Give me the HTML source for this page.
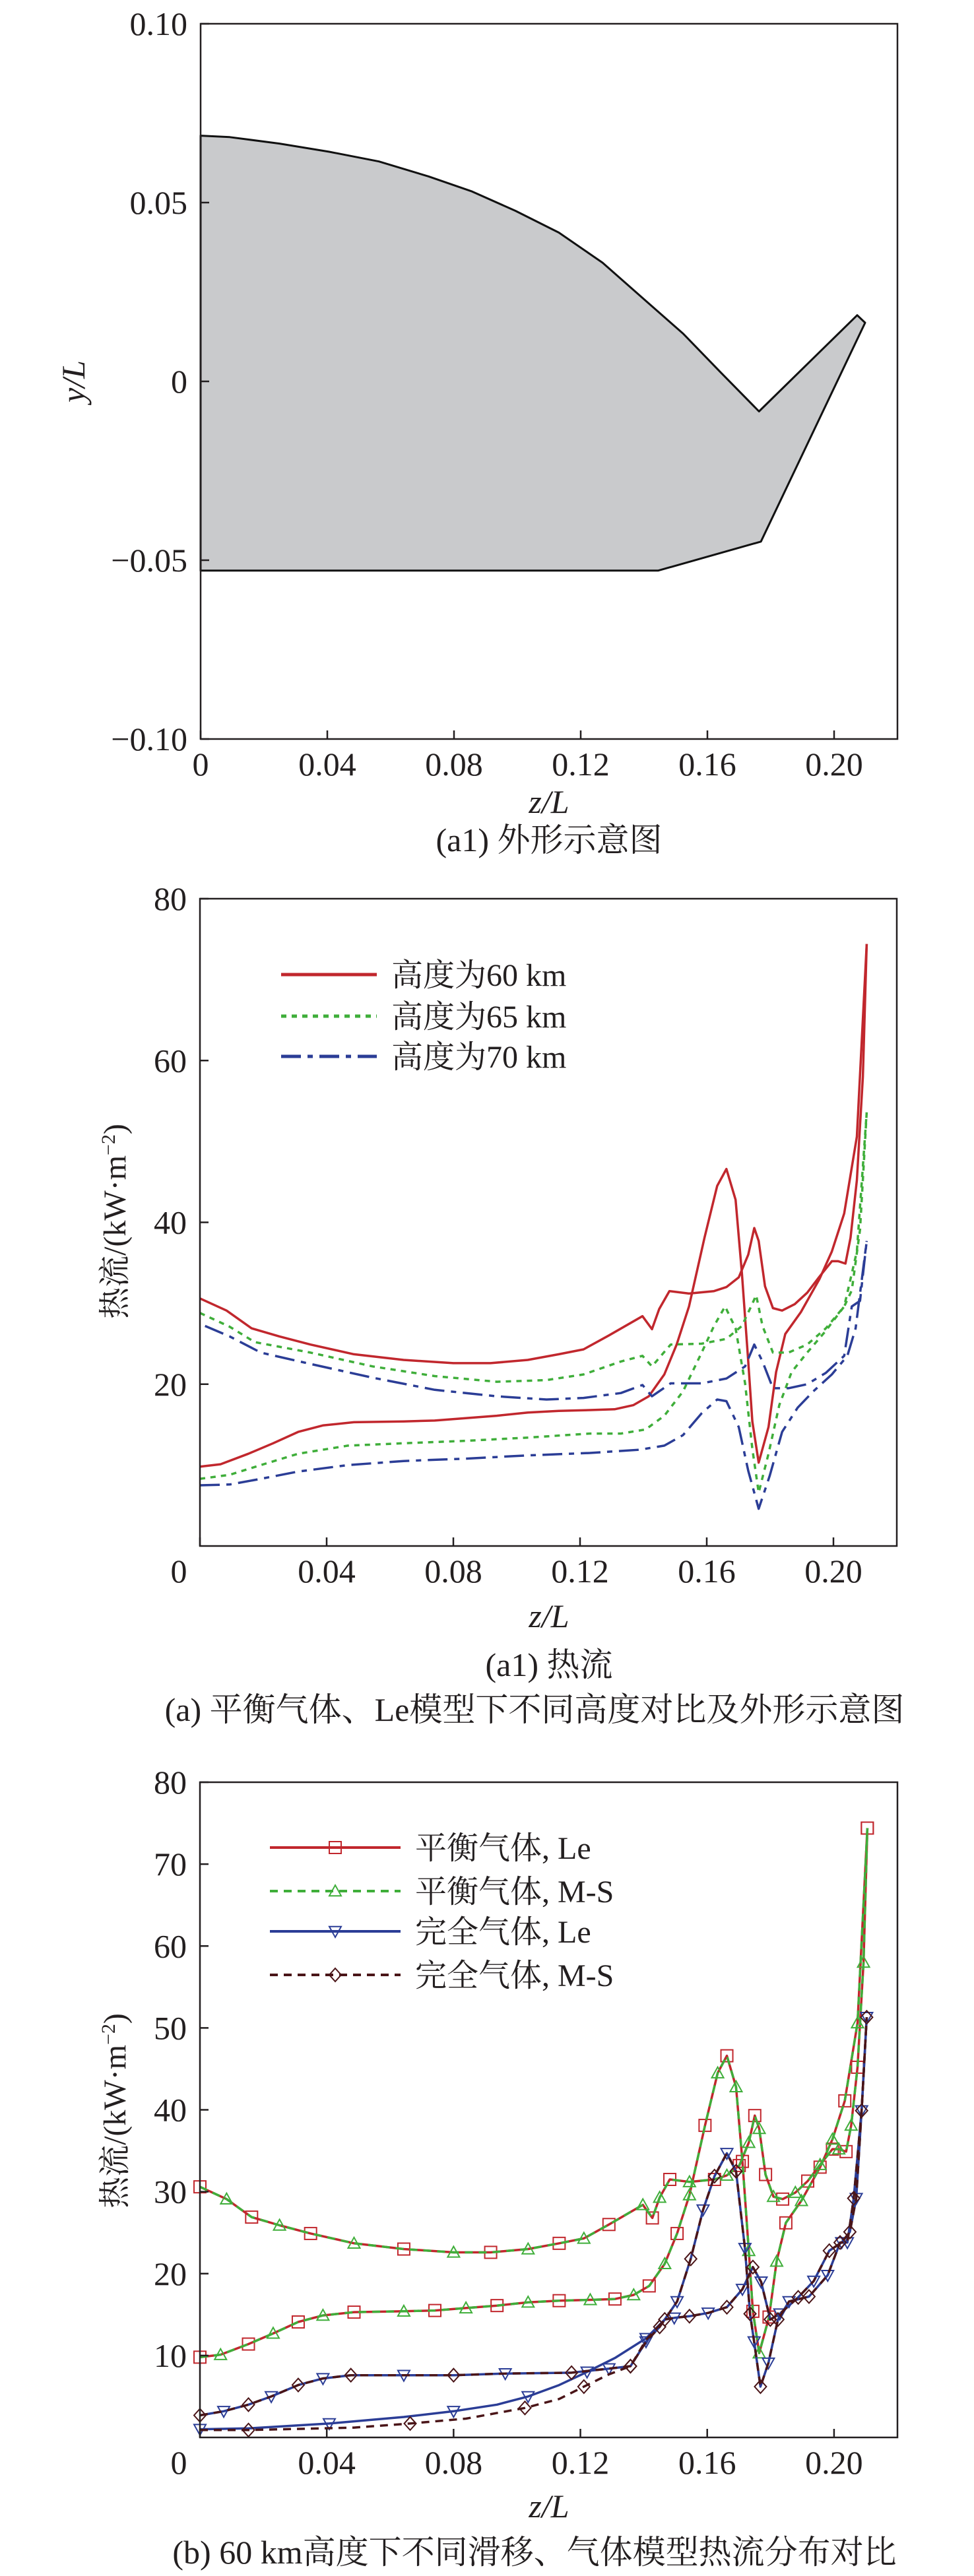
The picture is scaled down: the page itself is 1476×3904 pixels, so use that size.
<!DOCTYPE html>
<html><head><meta charset="utf-8">
<style>
html,body{margin:0;padding:0;background:#fff;}
svg{display:block;}
text{font-family:"Liberation Serif","Noto Serif CJK SC",serif;fill:#231f20;}
</style></head>
<body>
<svg id="fig" width="1476" height="3904" viewBox="0 0 1476 3904" xmlns="http://www.w3.org/2000/svg" font-family="Liberation Serif, Noto Serif CJK SC, serif"></svg>
<script>
// ---------- Chart 1 data: shape outline ----------
const shapeZ = [0,0.0092,0.0249,0.0406,0.0563,0.072,0.0857,0.0994,0.1131,0.1269,0.1406,0.1524,0.1641,0.1763,0.2073,0.2098,0.1769,0.1445,0];
const shapeY = [0.0687,0.0683,0.0665,0.0642,0.0615,0.0573,0.0531,0.0477,0.0416,0.0332,0.0225,0.0133,0.0026,-0.0084,0.0185,0.0164,-0.0448,-0.0529,-0.0529];
const xTicks = [0,0.04,0.08,0.12,0.16,0.20];
const xTickLabels = ["0","0.04","0.08","0.12","0.16","0.20"];
const y1Ticks = [0.10,0.05,0,-0.05,-0.10];
const y1TickLabels = ["0.10","0.05","0","\u22120.05","\u22120.10"];
// ---------- Chart 2 data ----------
const c2Ticks = [20,40,60,80];
const c2TickLabels = ["20","40","60","80"];
const h60UpZ = [0,.0084,.0163,.0251,.0349,.0486,.0643,.08,.0917,.1035,.1133,.1211,.129,.1397,.1427,.145,.1482,.1544,.1623,.1662,.1701,.1731,.175,.1764,.1784,.1809,.1838,.1878,.1917,.1956,.1995,.2015,.2038,.2054,.2074,.2093,.2105];
const h60UpV = [30.6,29.1,26.9,25.9,24.9,23.7,23.0,22.6,22.6,23.0,23.7,24.3,26.0,28.4,26.8,29.3,31.5,31.2,31.5,32.0,33.2,36.0,39.3,37.7,32.1,29.4,29.1,29.9,31.3,33.3,35.2,35.2,34.9,38.1,45.2,58.0,74.4];
const h60LoZ = [0,.0065,.0153,.0231,.031,.0388,.0486,.0643,.0741,.0839,.0937,.1035,.1133,.1231,.1309,.1368,.1417,.1466,.1505,.1544,.1593,.1633,.1662,.1691,.1711,.1731,.1744,.1764,.1795,.1819,.1848,.1897,.1956,.1995,.2034,.2074,.2105];
const h60LoV = [9.8,10.1,11.4,12.7,14.1,14.9,15.3,15.4,15.5,15.8,16.1,16.5,16.7,16.8,16.9,17.4,18.5,21.2,24.9,29.6,38.1,44.5,46.6,42.8,33.7,22.8,15.4,10.3,14.7,21.5,26.2,28.9,33.0,36.4,41.1,50.6,74.4];
const h65UpZ = [0,.0094,.0173,.0349,.0545,.0741,.0937,.1094,.1211,.1329,.1397,.1427,.1486,.1584,.1662,.1711,.1740,.1756,.1776,.1809,.1858,.1917,.1976,.2034,.2058,.2084,.2105];
const h65UpV = [28.8,27.1,25.2,23.9,22.2,21.0,20.3,20.5,21.2,22.8,23.5,22.2,24.9,25.0,25.6,27.2,29.6,31.0,27.2,23.9,23.9,24.9,26.9,29.6,31.6,39.1,53.6];
const h65LoZ = [0,.0094,.0192,.031,.0467,.0643,.0839,.1035,.1231,.1329,.1407,.1466,.1525,.1584,.1623,.1658,.1691,.1721,.1744,.1764,.1795,.1829,.1868,.1917,.1976,.2034,.2074,.2105];
const h65LoV = [8.3,8.8,10.0,11.4,12.4,12.7,13.0,13.4,13.9,13.9,14.4,16.1,19.1,23.9,27.2,29.6,26.9,20.1,12.0,6.6,11.4,17.4,21.5,23.9,26.6,29.6,36.4,53.6];
const h70UpZ = [.0016,.0094,.0192,.0349,.0545,.0741,.0937,.1094,.1211,.1329,.1397,.1427,.1486,.1584,.1662,.1721,.175,.1776,.1809,.1858,.1917,.1976,.2034,.2058,.2084,.2105];
const h70UpV = [27.2,25.9,23.9,22.5,20.8,19.3,18.5,18.1,18.3,18.9,19.9,18.5,20.1,20.1,20.7,22.2,24.9,22.8,19.5,19.5,20.0,21.4,23.5,29.6,30.3,37.7];
const h70LoZ = [0,.0094,.0192,.031,.0467,.0643,.0839,.1035,.1231,.1388,.1466,.1525,.1584,.1633,.1662,.1701,.1731,.1764,.1799,.1838,.1887,.1936,.1995,.2044,.2070,.2105];
const h70LoV = [7.5,7.6,8.3,9.2,10.0,10.5,10.8,11.2,11.5,11.9,12.4,13.7,16.4,18.1,17.9,14.7,9.3,4.6,8.7,14.1,17.1,19.1,21.2,23.5,26.9,37.7];
// ---------- Chart 3 data ----------
const c3Ticks = [10,20,30,40,50,60,70,80];
const c3TickLabels = ["10","20","30","40","50","60","70","80"];
const pgUpZ = [0,.0075,.0153,.0225,.031,.0388,.0476,.0643,.0800,.0963,.1172,.1290,.1358,.1407,.1450,.1505,.1548,.1587,.1623,.1662,.1691,.1719,.1735,.1748,.1768,.1793,.1823,.1858,.1921,.1980,.2019,.2042,.2062,.2087,.2103];
const pgUpV = [2.7,3.2,4.0,5.0,6.4,7.2,7.6,7.6,7.6,7.8,7.9,8.4,8.7,11.7,13.5,16.6,21.8,27.8,31.9,34.7,32.5,23.1,15.1,11.7,6.2,9.1,14.4,16.6,17.2,19.8,23.8,23.8,29.2,39.9,51.3];
const pgLeLoZ = [0,.0153,.0408,.0643,.0800,.0937,.1035,.1133,.1221,.1309,.1407,.1466,.1496,.1544,.1603,.1662,.1711,.1744,.1770,.1799,.1829,.1887,.1936,.1985,.2024,.2050,.2070,.2087,.2103];
const pgLeLoV = [1.0,1.1,1.7,2.5,3.2,4.0,5.0,6.4,8.0,9.7,12.1,14.4,14.6,14.8,15.2,15.9,18.1,20.8,19.0,14.4,15.1,17.1,19.1,22.8,23.8,25.1,29.2,39.9,51.3];
const pgMsLoZ = [0,.0153,.0486,.0663,.0839,.1025,.1133,.1211,.1290,.1358,.1407,.1466,.1496,.1544,.1603,.1662,.1711,.1744,.1770,.1799,.1829,.1887,.1936,.1985,.2024,.2050,.2070,.2087,.2103];
const pgMsLoV = [0.9,0.9,1.2,1.7,2.3,3.6,4.7,6.2,7.7,8.7,11.9,14.4,14.6,14.8,15.2,15.9,18.1,20.8,19.0,14.4,15.1,17.1,19.1,22.8,23.8,25.1,29.2,39.9,51.3];

const NS='http://www.w3.org/2000/svg';
const svg=document.getElementById('fig');
function el(tag,attrs,parent){const e=document.createElementNS(NS,tag);for(const k in attrs)e.setAttribute(k,attrs[k]);(parent||svg).appendChild(e);return e;}
function txt(s,attrs,parent){const t=el('text',attrs,parent);t.textContent=s;return t;}

function axes(L,R,T,B,xmax,ymin,ymax){
  return {x:z=>L+(z/xmax)*(R-L), y:v=>B-(v-ymin)/(ymax-ymin)*(B-T)};
}
function pathD(X,Y,fx,fy){return X.map((z,i)=>(i?'L':'M')+fx(z).toFixed(1)+' '+fy(Y[i]).toFixed(1)).join(' ');}

function frame(g,L,R,T,B,ax,yTicks,yLabels,showX0){
  const f=el('rect',{x:L,y:T,width:R-L,height:B-T,fill:'none',stroke:'#231f20','stroke-width':2.5},g);
  
  
  xTicks.forEach((z,i)=>{
    const X=ax.x(z);
    const tk=el('line',{x1:X,x2:X,y1:B,y2:B-13,stroke:'#231f20','stroke-width':2.5},g);
    
    
    if(i===0 && !showX0) return;
    const t=txt(xTickLabels[i],{x:X,y:B+55,'font-size':50,'text-anchor':'middle'},g);
    
    
  });
  yTicks.forEach((v,i)=>{
    const Y=ax.y(v);
    const tk=el('line',{x1:L,x2:L+13,y1:Y,y2:Y,stroke:'#231f20','stroke-width':2.5},g);
    
    
    const t=txt(yLabels[i],{x:L-20,y:Y+17,'font-size':50,'text-anchor':'end'},g);
    
    
  });
}

// ===== Chart 1 =====
{
const g=el('g',{});


const L=304,R=1360,T=36,B=1120;
const ax=axes(L,R,T,B,0.22,-0.10,0.10);
const p=el('path',{d:pathD(shapeZ,shapeY,ax.x,ax.y)+' Z',fill:'#c9cacc',stroke:'#111','stroke-width':3,'stroke-linejoin':'round'},g);


frame(g,L,R,T,B,ax,y1Ticks,y1TickLabels,true);
const yt=txt('y/L',{x:0,y:0,'font-size':50,'font-style':'italic','text-anchor':'middle',transform:'translate(128,578) rotate(-90)'},g);


const xt=txt('z/L',{x:832,y:1232,'font-size':50,'font-style':'italic','text-anchor':'middle'},g);


const cap=txt('(a1) 外形示意图',{x:832,y:1290,'font-size':50,'text-anchor':'middle'},g);


}

// ===== Chart 2 =====
{
const g=el('g',{});


const L=303,R=1359,T=1362,B=2343;
const ax=axes(L,R,T,B,0.22,0,80);
const series=[
 ['altitude-60km-upper',h60UpZ,h60UpV,'#c1272d','none'],
 ['altitude-60km-lower',h60LoZ,h60LoV,'#c1272d','none'],
 ['altitude-65km-upper',h65UpZ,h65UpV,'#3fae3a','8 8'],
 ['altitude-65km-lower',h65LoZ,h65LoV,'#3fae3a','8 8'],
 ['altitude-70km-upper',h70UpZ,h70UpV,'#2b3d96','30 10 8 10'],
 ['altitude-70km-lower',h70LoZ,h70LoV,'#2b3d96','30 10 8 10']];
series.forEach(s=>{
  const p=el('path',{d:pathD(s[1],s[2],ax.x,ax.y),fill:'none',stroke:s[3],'stroke-width':3.5,'stroke-dasharray':s[4],'stroke-linejoin':'round'},g);
  
  
});
frame(g,L,R,T,B,ax,c2Ticks,c2TickLabels,false);
const z0=txt('0',{x:271,y:2398,'font-size':50,'text-anchor':'middle'},g);


const leg=[['高度为60 km','#c1272d','none',1477],['高度为65 km','#3fae3a','8 8',1540],['高度为70 km','#2b3d96','30 10 8 10',1601]];
leg.forEach(l=>{
  const ge=el('g',{},g);
  
  
  el('line',{x1:426,x2:571,y1:l[3],y2:l[3],stroke:l[1],'stroke-width':5,'stroke-dasharray':l[2]},ge);
  txt(l[0],{x:593,y:l[3]+17,'font-size':48},ge);
});
const yt=txt('热流/(kW·m',{x:0,y:0,'font-size':48,'text-anchor':'middle',transform:'translate(190,1851) rotate(-90)'},g);
const sup=el('tspan',{dy:-16,'font-size':30},yt);sup.textContent='−2';
const cl=el('tspan',{dy:16},yt);cl.textContent=')';


const xt=txt('z/L',{x:832,y:2466,'font-size':50,'font-style':'italic','text-anchor':'middle'},g);


const cap=txt('(a1) 热流',{x:832,y:2540,'font-size':50,'text-anchor':'middle'},g);


const capa=txt('(a) 平衡气体、Le模型下不同高度对比及外形示意图',{x:810,y:2608,'font-size':50,'text-anchor':'middle'},g);


}

// ===== Chart 3 =====
{
const g=el('g',{});


const L=303,R=1360,T=2701,B=3694;
const ax=axes(L,R,T,B,0.22,0,80);
function marker(kind,X,Y,color,parent){
  const r=9;let m;
  if(kind==='sq') m=el('rect',{x:X-r,y:Y-r,width:2*r,height:2*r,fill:'none',stroke:color,'stroke-width':2},parent);
  else if(kind==='tri') m=el('path',{d:`M${X} ${Y-r} L${X+r} ${Y+r*0.8} L${X-r} ${Y+r*0.8}Z`,fill:'none',stroke:color,'stroke-width':2},parent);
  else if(kind==='dtri') m=el('path',{d:`M${X} ${Y+r} L${X+r} ${Y-r*0.8} L${X-r} ${Y-r*0.8}Z`,fill:'none',stroke:color,'stroke-width':2},parent);
  else m=el('path',{d:`M${X} ${Y-r-1} L${X+r} ${Y} L${X} ${Y+r+1} L${X-r} ${Y}Z`,fill:'none',stroke:color,'stroke-width':2},parent);
  
  
}
const series=[
 ['eq-le-upper',h60UpZ,h60UpV,'#c1272d','none','sq',0],
 ['eq-le-lower',h60LoZ,h60LoV,'#c1272d','none','sq',0],
 ['eq-ms-upper',h60UpZ,h60UpV,'#3fae3a','12 9','tri',1],
 ['eq-ms-lower',h60LoZ,h60LoV,'#3fae3a','12 9','tri',1],
 ['pg-le-upper',pgUpZ,pgUpV,'#2b3d96','none','dtri',1],
 ['pg-le-lower',pgLeLoZ,pgLeLoV,'#2b3d96','none','dtri',0],
 ['pg-ms-upper',pgUpZ,pgUpV,'#4a1518','12 9','dia',0],
 ['pg-ms-lower',pgMsLoZ,pgMsLoV,'#4a1518','12 9','dia',1]];
series.forEach(s=>{
  const p=el('path',{d:pathD(s[1],s[2],ax.x,ax.y),fill:'none',stroke:s[3],'stroke-width':3.5,'stroke-dasharray':s[4],'stroke-linejoin':'round'},g);
  
  
  const mg=el('g',{},g);
  
  
  s[1].forEach((z,i)=>{ if(i%2===s[6]) marker(s[5],ax.x(z),ax.y(s[2][i]),s[3],mg); });
});
frame(g,L,R,T,B,ax,c3Ticks,c3TickLabels,false);
const z0=txt('0',{x:271,y:3749,'font-size':50,'text-anchor':'middle'},g);


const leg=[['平衡气体, Le','#c1272d','none','sq',2800],['平衡气体, M-S','#3fae3a','12 9','tri',2866],['完全气体, Le','#2b3d96','none','dtri',2927],['完全气体, M-S','#4a1518','12 9','dia',2993]];
leg.forEach(l=>{
  const ge=el('g',{},g);
  
  
  el('line',{x1:409,x2:607,y1:l[4],y2:l[4],stroke:l[1],'stroke-width':4,'stroke-dasharray':l[2]},ge);
  marker(l[3],508,l[4],l[1],ge);
  txt(l[0],{x:629,y:l[4]+17,'font-size':48},ge);
});
const yt=txt('热流/(kW·m',{x:0,y:0,'font-size':48,'text-anchor':'middle',transform:'translate(190,3199) rotate(-90)'},g);
const sup=el('tspan',{dy:-16,'font-size':30},yt);sup.textContent='−2';
const cl=el('tspan',{dy:16},yt);cl.textContent=')';


const xt=txt('z/L',{x:832,y:3815,'font-size':50,'font-style':'italic','text-anchor':'middle'},g);


const cap=txt('(b) 60 km高度下不同滑移、气体模型热流分布对比',{x:810,y:3885,'font-size':50,'text-anchor':'middle'},g);


}
</script>
</body></html>
